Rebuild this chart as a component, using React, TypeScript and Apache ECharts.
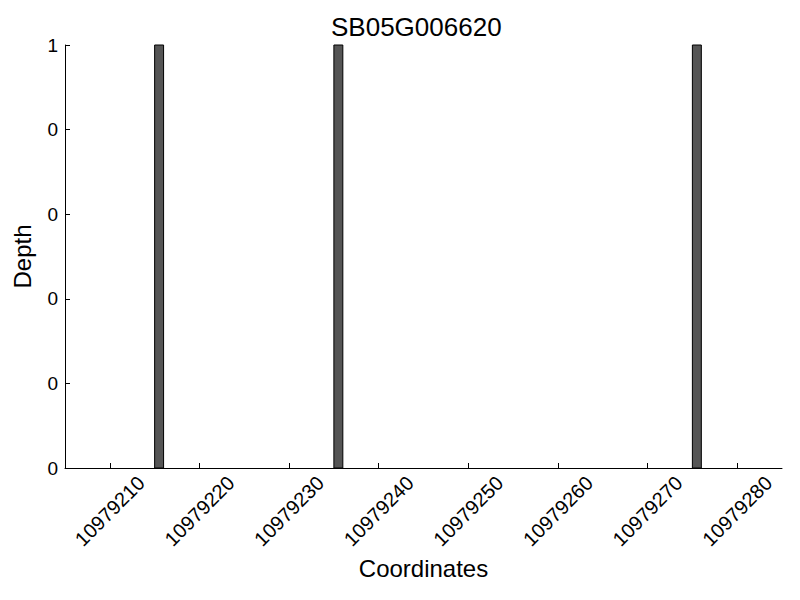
import React, { useEffect, useRef } from "react";
import * as echarts from "echarts";

const chartTitle = "SB05G006620";
const barStarts = [10979215, 10979235, 10979275];
const depths = [1, 1, 1];
const xTickValues = [10979210, 10979220, 10979230, 10979240, 10979250, 10979260, 10979270, 10979280];
const yTickValues = [0, 0.2, 0.4, 0.6, 0.8, 1];
const yTickLabels = ["0", "0", "0", "0", "0", "1"];
const xMin = 10979205;
const xMax = 10979285;
const binWidth = 1;

const FONT = "Liberation Sans, Arial, Helvetica, sans-serif";

export default function App() {
  const ref = useRef<HTMLDivElement>(null);
  useEffect(() => {
    if (!ref.current) return;
    const chart = echarts.init(ref.current, undefined, { renderer: "svg" });
    const data = barStarts.map((s, i) => [s, depths[i]]);
    chart.setOption({
      animation: false,
      backgroundColor: "#ffffff",
      title: {
        text: chartTitle,
        left: 331,
        top: 14,
        padding: 0,
        textStyle: { fontFamily: FONT, fontSize: 26, fontWeight: "normal", color: "#000" },
      },
      grid: { left: 65, right: 18, top: 45, bottom: 132 },
      xAxis: {
        type: "value",
        min: xMin,
        max: xMax,
        name: "Coordinates",
        nameLocation: "middle",
        nameGap: 87,
        nameTextStyle: { fontFamily: FONT, fontSize: 24, color: "#000" },
        axisLine: { show: true, onZero: false, lineStyle: { color: "#000", width: 1 } },
        axisTick: { show: true, inside: true, length: 5, customValues: xTickValues, lineStyle: { color: "#000" } },
        axisLabel: {
          customValues: xTickValues,
          rotate: 45,
          align: "center",
          verticalAlign: "middle",
          margin: 43,
          fontFamily: FONT,
          fontSize: 20,
          color: "#000",
          formatter: (v: number) => String(v),
        },
        splitLine: { show: false },
      },
      yAxis: {
        type: "value",
        min: 0,
        max: 1,
        interval: 0.2,
        name: "Depth",
        nameLocation: "middle",
        nameGap: 31,
        nameRotate: 90,
        nameTextStyle: { fontFamily: FONT, fontSize: 24, color: "#000" },
        axisLine: { show: true, lineStyle: { color: "#000", width: 1 } },
        axisTick: { show: true, inside: true, length: 5, lineStyle: { color: "#000" } },
        axisLabel: {
          margin: 7,
          fontFamily: FONT,
          fontSize: 19,
          color: "#000",
          formatter: (v: number) => {
            const idx = yTickValues.findIndex((t) => Math.abs(t - v) < 1e-9);
            return idx >= 0 ? yTickLabels[idx] : "";
          },
        },
        splitLine: { show: false },
      },
      series: [
        {
          type: "custom",
          data,
          renderItem: (params: any, api: any) => {
            const start = api.value(0);
            const val = api.value(1);
            const p1 = api.coord([start, val]);
            const p0 = api.coord([start + binWidth, 0]);
            return {
              type: "rect",
              shape: { x: p1[0], y: p1[1], width: p0[0] - p1[0], height: p0[1] - p1[1] },
              style: { fill: "#555555", stroke: "#000000", lineWidth: 1 },
            };
          },
        },
      ],
    });
    return () => chart.dispose();
  }, []);
  return (
    <div
      ref={ref}
      style={{ position: "fixed", left: 0, top: 0, width: 800, height: 600, background: "#fff" }}
    />
  );
}
